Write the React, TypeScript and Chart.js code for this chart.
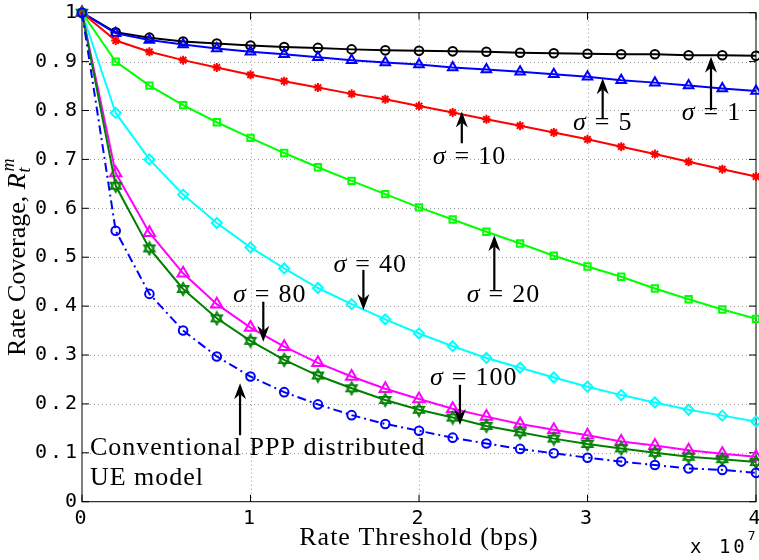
import React, { useEffect, useRef } from 'react';
import { Chart, registerables } from 'chart.js';

Chart.register(...registerables);

// Rate threshold values (bps)
const thresholds = [0, 2000000, 4000000, 6000000, 8000000, 10000000, 12000000, 14000000, 16000000, 18000000, 20000000, 22000000, 24000000, 26000000, 28000000, 30000000, 32000000, 34000000, 36000000, 38000000, 40000000];

// Rate coverage series
const sigma1 = [1, 0.960, 0.949, 0.941, 0.937, 0.933, 0.930, 0.928, 0.925, 0.923, 0.922, 0.921, 0.920, 0.918, 0.917, 0.916, 0.915, 0.915, 0.913, 0.913, 0.912];
const sigma5 = [1, 0.958, 0.944, 0.935, 0.927, 0.920, 0.915, 0.909, 0.903, 0.898, 0.894, 0.888, 0.884, 0.879, 0.874, 0.869, 0.862, 0.857, 0.851, 0.845, 0.840];
const sigma10 = [1, 0.943, 0.920, 0.903, 0.888, 0.873, 0.860, 0.847, 0.834, 0.823, 0.809, 0.796, 0.782, 0.769, 0.755, 0.741, 0.726, 0.711, 0.695, 0.680, 0.665];
const sigma20 = [1, 0.900, 0.851, 0.811, 0.776, 0.744, 0.713, 0.684, 0.656, 0.629, 0.602, 0.577, 0.552, 0.528, 0.503, 0.481, 0.460, 0.436, 0.414, 0.393, 0.374];
const sigma40 = [1, 0.795, 0.700, 0.628, 0.570, 0.520, 0.477, 0.437, 0.404, 0.373, 0.344, 0.318, 0.294, 0.274, 0.254, 0.235, 0.218, 0.203, 0.188, 0.176, 0.164];
const sigma80 = [1, 0.672, 0.550, 0.467, 0.404, 0.356, 0.317, 0.284, 0.256, 0.231, 0.210, 0.190, 0.174, 0.159, 0.147, 0.136, 0.123, 0.115, 0.105, 0.098, 0.092];
const sigma100 = [1, 0.646, 0.518, 0.435, 0.375, 0.329, 0.290, 0.258, 0.232, 0.208, 0.188, 0.172, 0.155, 0.142, 0.129, 0.118, 0.109, 0.100, 0.092, 0.087, 0.081];
const pppModel = [1, 0.554, 0.425, 0.350, 0.297, 0.256, 0.224, 0.199, 0.177, 0.159, 0.145, 0.131, 0.119, 0.108, 0.099, 0.090, 0.082, 0.075, 0.068, 0.065, 0.059];

// Tick labels
const xTickLabels = ['0', '1', '2', '3', '4'];
const yTickLabels = ['0', '0.1', '0.2', '0.3', '0.4', '0.5', '0.6', '0.7', '0.8', '0.9', '1'];

// Text
const xTitle = 'Rate Threshold (bps)';
const yTitle = 'Rate Coverage, ';
const pppLines = ['Conventional PPP distributed', 'UE model'];

// Annotation anchors in data units (x in bps, y in coverage)
const sigmaNotes = [
  { label: '1', tx: 35590000, ty: 0.795, ax: 37330000, ay0: 0.801, ay1: 0.910 },
  { label: '5', tx: 29140000, ty: 0.774, ax: 30900000, ay0: 0.784, ay1: 0.866 },
  { label: '10', tx: 20810000, ty: 0.705, ax: 22540000, ay0: 0.733, ay1: 0.798 },
  { label: '20', tx: 22830000, ty: 0.423, ax: 24470000, ay0: 0.433, ay1: 0.545 },
  { label: '40', tx: 14920000, ty: 0.484, ax: 16700000, ay0: 0.474, ay1: 0.392 },
  { label: '80', tx: 8960000, ty: 0.423, ax: 10760000, ay0: 0.409, ay1: 0.327 },
  { label: '100', tx: 20650000, ty: 0.253, ax: 22430000, ay0: 0.239, ay1: 0.157 },
];
const pppNote = { tx: 470000, ty0: 0.110, ty1: 0.048, ax: 9380000, ay0: 0.136, ay1: 0.242 };

const SERIF = '"Liberation Serif", "Times New Roman", serif';
const MONO = '"DejaVu Sans Mono", monospace';

function makeHexagram(color: string): HTMLCanvasElement {
  const c = document.createElement('canvas');
  c.width = 16;
  c.height = 16;
  const g = c.getContext('2d')!;
  g.strokeStyle = color;
  g.lineWidth = 1.6;
  g.lineJoin = 'miter';
  const r = 6.3;
  for (const off of [-Math.PI / 2, Math.PI / 2]) {
    g.beginPath();
    for (let i = 0; i < 3; i++) {
      const a = off + (i * 2 * Math.PI) / 3;
      const px = 8 + r * Math.cos(a);
      const py = 8 + r * Math.sin(a);
      if (i === 0) g.moveTo(px, py);
      else g.lineTo(px, py);
    }
    g.closePath();
    g.stroke();
  }
  return c;
}

function drawArrow(ctx: CanvasRenderingContext2D, x: number, y0: number, y1: number) {
  const dir = y1 > y0 ? 1 : -1;
  const headLen = 16;
  const halfW = 6;
  const notch = 11;
  ctx.save();
  ctx.strokeStyle = '#000';
  ctx.fillStyle = '#000';
  ctx.lineWidth = 2.2;
  ctx.beginPath();
  ctx.moveTo(x, y0);
  ctx.lineTo(x, y1 - dir * notch);
  ctx.stroke();
  ctx.beginPath();
  ctx.moveTo(x, y1);
  ctx.lineTo(x + halfW, y1 - dir * headLen);
  ctx.lineTo(x, y1 - dir * notch);
  ctx.lineTo(x - halfW, y1 - dir * headLen);
  ctx.closePath();
  ctx.fill();
  ctx.restore();
}

function setSpacing(ctx: any, px: number) {
  if ('letterSpacing' in ctx) ctx.letterSpacing = `${px}px`;
}

function drawSigma(ctx: CanvasRenderingContext2D, x: number, y: number, num: string) {
  ctx.save();
  setSpacing(ctx, 0);
  ctx.fillStyle = '#000';
  ctx.textBaseline = 'middle';
  ctx.textAlign = 'left';
  ctx.font = `italic 26px ${SERIF}`;
  ctx.fillText('σ', x, y);
  let cx = x + ctx.measureText('σ').width + 9;
  ctx.font = `26px ${SERIF}`;
  ctx.fillText('=', cx, y);
  cx += ctx.measureText('=').width + 9;
  setSpacing(ctx, 1);
  ctx.fillText(num, cx, y);
  ctx.restore();
}

const decorPlugin = {
  id: 'decor',
  beforeDraw(chart: any) {
    setSpacing(chart.ctx, 3);
  },
  beforeDatasetsDraw(chart: any) {
    const { ctx, chartArea: a, scales } = chart;
    ctx.save();
    setSpacing(ctx, 0);
    // dotted grid
    ctx.strokeStyle = '#9a9a9a';
    ctx.lineWidth = 1;
    ctx.setLineDash([1, 3]);
    ctx.beginPath();
    for (let i = 1; i < xTickLabels.length - 1; i++) {
      const px = Math.round(scales.x.getPixelForValue(i * 10000000)) + 0.5;
      ctx.moveTo(px, a.bottom);
      ctx.lineTo(px, a.top);
    }
    for (let i = 1; i < yTickLabels.length - 1; i++) {
      const py = Math.round(scales.y.getPixelForValue(i / 10)) + 0.5;
      ctx.moveTo(a.left, py);
      ctx.lineTo(a.right, py);
    }
    ctx.stroke();
    ctx.setLineDash([]);
    // box + inward ticks
    ctx.strokeStyle = '#000';
    ctx.lineWidth = 1;
    ctx.strokeRect(a.left, a.top, a.right - a.left, a.bottom - a.top);
    const tl = 7;
    ctx.beginPath();
    for (let i = 0; i < xTickLabels.length; i++) {
      const px = scales.x.getPixelForValue(i * 10000000);
      ctx.moveTo(px, a.bottom);
      ctx.lineTo(px, a.bottom - tl);
      ctx.moveTo(px, a.top);
      ctx.lineTo(px, a.top + tl);
    }
    for (let i = 0; i < yTickLabels.length; i++) {
      const py = scales.y.getPixelForValue(i / 10);
      ctx.moveTo(a.left, py);
      ctx.lineTo(a.left + tl, py);
      ctx.moveTo(a.right, py);
      ctx.lineTo(a.right - tl, py);
    }
    ctx.stroke();
    ctx.restore();
  },
  afterDatasetsDraw(chart: any) {
    const { ctx, chartArea: a, scales } = chart;
    const X = (v: number) => scales.x.getPixelForValue(v);
    const Y = (v: number) => scales.y.getPixelForValue(v);

    for (const n of sigmaNotes) {
      drawArrow(ctx, X(n.ax), Y(n.ay0), Y(n.ay1));
      drawSigma(ctx, X(n.tx), Y(n.ty), n.label);
    }
    drawArrow(ctx, X(pppNote.ax), Y(pppNote.ay0), Y(pppNote.ay1));

    ctx.save();
    ctx.fillStyle = '#000';
    ctx.textBaseline = 'middle';
    ctx.textAlign = 'left';
    ctx.font = `26px ${SERIF}`;
    setSpacing(ctx, 1);
    ctx.fillText(pppLines[0], X(pppNote.tx), Y(pppNote.ty0));
    ctx.fillText(pppLines[1], X(pppNote.tx), Y(pppNote.ty1));

    // x title
    const xtw = ctx.measureText(xTitle).width;
    ctx.fillText(xTitle, (a.left + a.right) / 2 - xtw / 2, 538);

    // exponent label
    setSpacing(ctx, 3);
    ctx.font = `19px ${MONO}`;
    ctx.fillText('x 10', 690, 548);
    const w = ctx.measureText('x 10').width;
    setSpacing(ctx, 0);
    ctx.font = `13px ${MONO}`;
    ctx.fillText('7', 690 + w, 537);

    // y title (rotated)
    ctx.translate(18, (a.top + a.bottom) / 2);
    ctx.rotate(-Math.PI / 2);
    setSpacing(ctx, 0);
    ctx.font = `26px ${SERIF}`;
    const w1 = ctx.measureText(yTitle).width;
    ctx.font = `italic 26px ${SERIF}`;
    const w2 = ctx.measureText('R').width;
    ctx.font = `italic 18px ${SERIF}`;
    const w3 = Math.max(ctx.measureText('t').width, ctx.measureText('m').width);
    const total = w1 + w2 + w3 + 2;
    let sx = -total / 2;
    ctx.font = `26px ${SERIF}`;
    ctx.fillText(yTitle, sx, 0);
    sx += w1;
    ctx.font = `italic 26px ${SERIF}`;
    ctx.fillText('R', sx, 0);
    sx += w2 + 1;
    ctx.font = `italic 18px ${SERIF}`;
    ctx.fillText('m', sx + 1, -9);
    ctx.fillText('t', sx, 7);
    ctx.restore();
  },
};

export default function App() {
  const ref = useRef<HTMLCanvasElement>(null);

  useEffect(() => {
    document.body.style.margin = '0';
    const hex = makeHexagram('#008000');
    const pts = (ys: number[]) => ys.map((y, i) => ({ x: thresholds[i], y }));
    const base = {
      fill: false,
      tension: 0,
      borderWidth: 2,
      pointBorderWidth: 2,
      pointBackgroundColor: 'rgba(0,0,0,0)',
      clip: false as const,
    };
    const chart = new Chart(ref.current!, {
      type: 'line',
      data: {
        datasets: [
          { ...base, label: 'σ = 1', data: pts(sigma1), borderColor: '#000000', pointBorderColor: '#000000', pointStyle: 'circle', pointRadius: 4.3, order: 7 },
          { ...base, label: 'σ = 5', data: pts(sigma5), borderColor: '#0000ff', pointBorderColor: '#0000ff', pointStyle: 'triangle', pointRadius: 5.5, order: 6 },
          { ...base, label: 'σ = 10', data: pts(sigma10), borderColor: '#ff0000', pointBorderColor: '#ff0000', pointStyle: 'star', pointRadius: 4.5, order: 5 },
          { ...base, label: 'σ = 20', data: pts(sigma20), borderColor: '#00ff00', pointBorderColor: '#00ff00', pointStyle: 'rect', pointRadius: 4.5, order: 4 },
          { ...base, label: 'σ = 40', data: pts(sigma40), borderColor: '#00ffff', pointBorderColor: '#00ffff', pointStyle: 'rectRot', pointRadius: 5, order: 3 },
          { ...base, label: 'σ = 80', data: pts(sigma80), borderColor: '#ff00ff', pointBorderColor: '#ff00ff', pointStyle: 'triangle', pointRadius: 6.5, order: 2 },
          { ...base, label: 'σ = 100', data: pts(sigma100), borderColor: '#008000', pointBorderColor: '#008000', pointStyle: hex as any, pointRadius: 6, order: 1 },
          { ...base, label: 'PPP', data: pts(pppModel), borderColor: '#0000ff', pointBorderColor: '#0000ff', pointStyle: 'circle', pointRadius: 4.3, borderDash: [9, 4, 2, 4], order: 0 },
        ],
      },
      options: {
        animation: false,
        responsive: false,
        devicePixelRatio: 1,
        layout: { autoPadding: false, padding: { top: 12.7, right: 3, left: 0, bottom: 0 } },
        plugins: { legend: { display: false }, tooltip: { enabled: false }, title: { display: false } },
        events: [],
        scales: {
          x: {
            type: 'linear',
            min: 0,
            max: 40000000,
            afterFit: (s: any) => { s.height = 58.3; s.paddingLeft = 0; s.paddingRight = 0; },
            ticks: {
              stepSize: 10000000,
              maxRotation: 0,
              autoSkip: false,
              padding: 5,
              color: '#000',
              font: { family: MONO, size: 20 },
              callback: (v: any) => xTickLabels[Math.round(Number(v) / 10000000)] ?? '',
            },
            grid: { display: false, drawTicks: false },
            border: { display: false },
          },
          y: {
            type: 'linear',
            min: 0,
            max: 1,
            afterFit: (s: any) => { s.width = 82; s.paddingTop = 0; s.paddingBottom = 0; },
            ticks: {
              stepSize: 0.1,
              autoSkip: false,
              padding: 2,
              color: '#000',
              font: { family: MONO, size: 20 },
              callback: (v: any) => yTickLabels[Math.round(Number(v) * 10)] ?? '',
            },
            grid: { display: false, drawTicks: false },
            border: { display: false },
          },
        },
      },
      plugins: [decorPlugin],
    });
    return () => chart.destroy();
  }, []);

  return (
    <div style={{ width: 759, height: 560 }}>
      <canvas ref={ref} width={759} height={560} style={{ display: 'block', width: 759, height: 560 }} />
    </div>
  );
}
